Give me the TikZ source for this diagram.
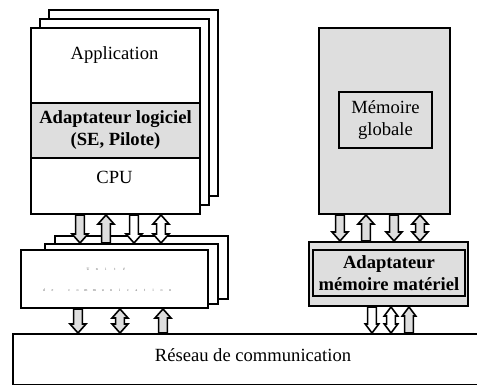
\documentclass[tikz,border=0pt]{standalone}
\usepackage{fontspec}
\setmainfont{Liberation Serif}
\usetikzlibrary{calc}

\definecolor{lgray}{gray}{0.87}

% demi-largeur de la tete
\newcommand{\tete}{4pt}
% fleche pleine : #1 style, #2 depart, #3 pointe
\newcommand{\flecheSimple}[3]{%
  \coordinate (fb) at ($(#3)!4.5pt!(#2)$);
  \draw[#1] ($(#2)!2.2pt!90:(#3)$) -- ($(fb)!2.2pt!90:(#3)$) -- ($(fb)!\tete!90:(#3)$) -- (#3)
    -- ($(fb)!\tete!-90:(#3)$) -- ($(fb)!2.2pt!-90:(#3)$) -- ($(#2)!2.2pt!-90:(#3)$) -- cycle;
}
% fleche double
\newcommand{\flecheDouble}[3]{%
  \coordinate (fa) at ($(#2)!4.5pt!(#3)$);
  \coordinate (fb) at ($(#3)!4.5pt!(#2)$);
  \draw[#1] (#2) -- ($(fa)!\tete!90:(#3)$) -- ($(fa)!2.2pt!90:(#3)$) -- ($(fb)!2.2pt!90:(#3)$) -- ($(fb)!\tete!90:(#3)$) -- (#3)
    -- ($(fb)!\tete!-90:(#3)$) -- ($(fb)!2.2pt!-90:(#3)$) -- ($(fa)!2.2pt!-90:(#3)$) -- ($(fa)!\tete!-90:(#3)$) -- cycle;
}

\begin{document}
\begin{tikzpicture}[x=0.5pt, y=-0.5pt,
    boite/.style={draw, line width=1pt, fill=white, anchor=north west, inner sep=0pt},
    texte/.style={font=\fontsize{9.3}{11}\selectfont, inner sep=0pt, align=center},
    gras/.style={font=\fontsize{9.3}{11}\selectfont\bfseries, inner sep=0pt, align=center},
    fleche/.style={draw, line width=0.8pt, fill=white, line join=miter},
    minuscule/.style={font=\fontsize{2}{2.4}\selectfont, text=black!60, inner sep=0pt}
]
\useasboundingbox (0,0) rectangle (477,385);
\clip (0,0) rectangle (477,385);

% Pile processeurs
\node[boite, minimum width=84.5pt, minimum height=93pt] (proc2) at (48,9) {};
\node[boite, minimum width=84.5pt, minimum height=93pt] (proc1) at (39,18) {};
\node[boite, minimum width=84.5pt, minimum height=37.5pt] (appli) at (30,27) {};
\node[boite, gras, fill=lgray, minimum width=84.5pt, minimum height=27.5pt] (adlog) at (30,102) {Adaptateur logiciel\\(SE, Pilote)};
\node[boite, minimum width=84.5pt, minimum height=28pt] (cpu) at (30,157) {};
\node[texte] (tappli) at (114.5,55) {Application};
\node[texte] (tcpu) at (114.5,177) {CPU};

% Unite de communication
\node[boite, minimum width=86.5pt, minimum height=31.5pt] (com2) at (54,235) {};
\node[boite, minimum width=86.5pt, minimum height=30pt] (com1) at (44,243) {};
\node[boite, minimum width=93.5pt, minimum height=29pt] (com) at (20,249) {};
\node[minuscule] (tunite) at (106,269) {\foreach \c in {U,n,i,t,é}{\makebox[4.5pt]{\c}}};
\node[minuscule] (tcom) at (107,290) {\foreach \c in {d,e}{\makebox[4.2pt]{\c}}\hspace{4.2pt}\foreach \c in {c,o,m,m,u,n,i,c,a,t,i,o,n}{\makebox[4.2pt]{\c}}};

% Memoire
\node[boite, fill=lgray, minimum width=65.5pt, minimum height=93pt] (mem) at (318,27) {};
\node[boite, texte, fill=lgray, minimum width=46.5pt, minimum height=28pt] (memg) at (338,91) {Mémoire\\globale};
\node[boite, fill=lgray, minimum width=79.5pt, minimum height=32pt] (admat) at (308,241) {};
\node[boite, gras, fill=lgray, minimum width=76pt, minimum height=23pt] (admati) at (312,249) {Adaptateur\\mémoire matériel};

% Reseau
\node[boite, minimum width=245pt, minimum height=25.5pt] (reseau) at (12,333) {};
\node[texte] (treseau) at (253,355) {Réseau de communication};

% CPU <-> unite de communication
\foreach \n/\xx in {1/80,2/106,3/134,4/161} \coordinate (a\n) at (\xx,0);
\flecheSimple{fleche, fill=lgray}{cpu.south -| a1}{com1.north -| a1}
\flecheSimple{fleche, fill=lgray}{com1.north -| a2}{cpu.south -| a2}
\flecheSimple{fleche}{cpu.south -| a3}{com1.north -| a3}
\flecheDouble{fleche}{cpu.south -| a4}{com1.north -| a4}

% unite de communication <-> reseau
\foreach \n/\xx in {1/78,2/120,3/163} \coordinate (b\n) at (\xx,0);
\flecheSimple{fleche, fill=lgray}{com.south -| b1}{reseau.north -| b1}
\flecheDouble{fleche, fill=lgray}{com.south -| b2}{reseau.north -| b2}
\flecheSimple{fleche, fill=lgray}{reseau.north -| b3}{com.south -| b3}

% memoire <-> adaptateur materiel
\foreach \n/\xx in {1/340,2/366,3/394,4/420} \coordinate (m\n) at (\xx,0);
\flecheSimple{fleche, fill=lgray}{mem.south -| m1}{admat.north -| m1}
\flecheSimple{fleche, fill=lgray}{admat.north -| m2}{mem.south -| m2}
\flecheSimple{fleche, fill=lgray}{mem.south -| m3}{admat.north -| m3}
\flecheDouble{fleche, fill=lgray}{mem.south -| m4}{admat.north -| m4}

% adaptateur materiel <-> reseau (fleches serrees)
\renewcommand{\tete}{3.4pt}
\foreach \n/\xx in {1/372,2/391,3/409} \coordinate (r\n) at (\xx,0);
\flecheSimple{fleche}{admat.south -| r1}{reseau.north -| r1}
\flecheDouble{fleche}{admat.south -| r2}{reseau.north -| r2}
\flecheSimple{fleche, fill=lgray}{reseau.north -| r3}{admat.south -| r3}

\end{tikzpicture}
\end{document}
